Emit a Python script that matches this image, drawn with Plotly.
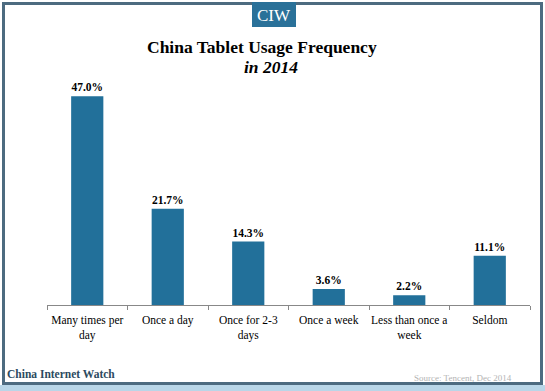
import plotly.graph_objects as go

categories = ["Many times per<br>day", "Once a day", "Once for 2-3<br>days", "Once a week",
              "Less than once a<br>week", "Seldom"]
values = [47.0, 21.7, 14.3, 3.6, 2.2, 11.1]
labels = ["47.0%", "21.7%", "14.3%", "3.6%", "2.2%", "11.1%"]

W, H = 545, 391
L, R, T, B = 47, 15, 83, 86
PW, PH = W - L - R, H - T - B

def px(x):
    return (x - L) / PW

def py(y):
    return (H - B - y) / PH

SERIF = "Liberation Serif, DejaVu Serif, serif"

fig = go.Figure(go.Bar(
    x=categories, y=values, text=labels, textposition="outside",
    textfont=dict(family=SERIF, size=11.5, color="black"),
    texttemplate="<b>%{text}</b>",
    marker=dict(color="#22709a", line=dict(width=0)),
    width=0.4, cliponaxis=False, hoverinfo="skip",
))

shapes = [
    dict(type="rect", xref="paper", yref="paper", x0=px(0), x1=px(W), y0=py(385), y1=py(H),
         fillcolor="#b9d6e8", line=dict(width=0), layer="below"),
    dict(type="rect", xref="paper", yref="paper", x0=px(3.5), x1=px(541.5), y0=py(383.5), y1=py(3.5),
         line=dict(color="#4d6b80", width=3), fillcolor="rgba(0,0,0,0)"),
    dict(type="rect", xref="paper", yref="paper", x0=px(252), x1=px(296), y0=py(27), y1=py(2),
         fillcolor="#2a7199", line=dict(width=0)),
]

annotations = [
    dict(text="CIW", x=px(274), y=py(15), xref="paper", yref="paper", showarrow=False,
         font=dict(family=SERIF, size=17, color="white"), xanchor="center", yanchor="middle"),
    dict(text="<b>China Tablet Usage Frequency</b>", x=px(262), y=py(47), xref="paper", yref="paper",
         showarrow=False, font=dict(family=SERIF, size=17.5, color="black"), xanchor="center", yanchor="middle"),
    dict(text="<b><i>in 2014</i></b>", x=px(271), y=py(67), xref="paper", yref="paper",
         showarrow=False, font=dict(family=SERIF, size=17.5, color="black"), xanchor="center", yanchor="middle"),
    dict(text="<b>China Internet Watch</b>", x=px(5), y=py(374), xref="paper", yref="paper",
         showarrow=False, font=dict(family=SERIF, size=11.5, color="#2c4a60"), xanchor="left", yanchor="middle"),
    dict(text="Source: Tencent, Dec 2014", x=px(514), y=py(378), xref="paper", yref="paper",
         showarrow=False, font=dict(family=SERIF, size=9, color="#b4b4b4"), xanchor="right", yanchor="middle"),
]

fig.update_layout(
    width=W, height=H, margin=dict(l=L, r=R, t=T, b=B),
    paper_bgcolor="white", plot_bgcolor="white",
    shapes=shapes, annotations=annotations, showlegend=False, hovermode=False,
    xaxis=dict(type="category", tickson="boundaries", ticks="outside", ticklen=4, tickangle=0,
               ticklabelstandoff=4,
               tickcolor="#888888", showline=True, linecolor="#888888", linewidth=1,
               showgrid=False, tickfont=dict(family=SERIF, size=11.5, color="black")),
    yaxis=dict(range=[0, 50], visible=False, showgrid=False, zeroline=False),
)

fig.write_html("out.html", config={"displayModeBar": False},
               post_script="document.body.style.margin='0';document.body.style.overflow='hidden';")
